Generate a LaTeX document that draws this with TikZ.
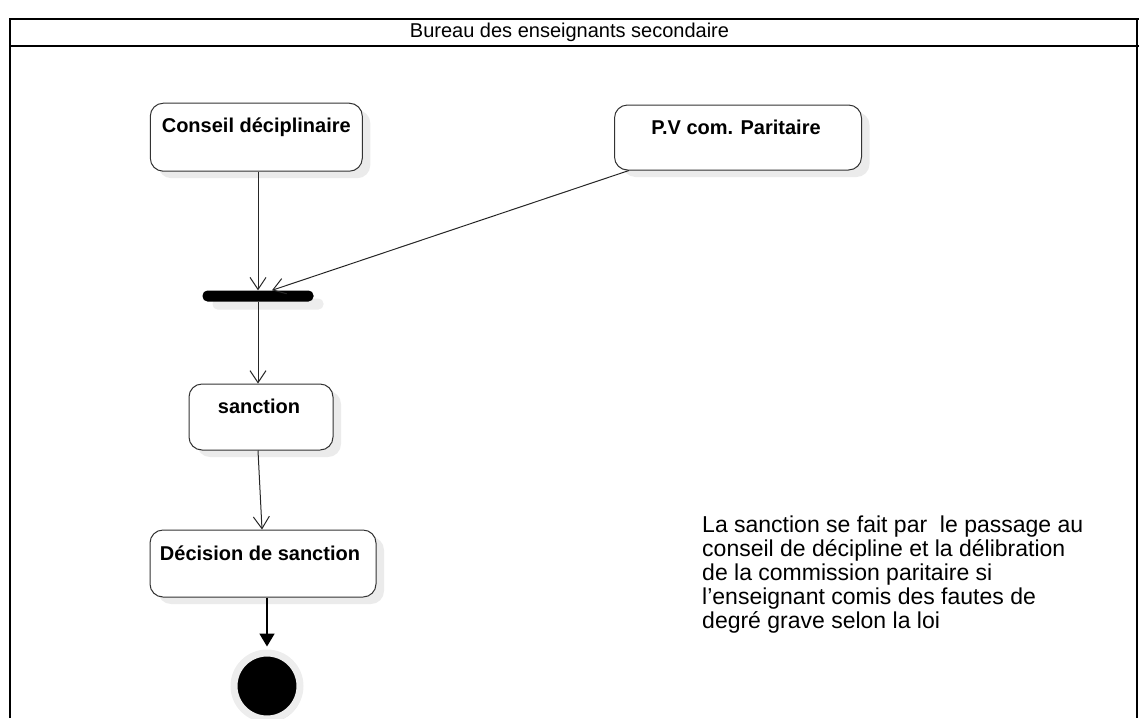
\documentclass[tikz,border=0pt]{standalone}
\usepackage{fontspec}
\setmainfont{Liberation Sans}
\usetikzlibrary{arrows.meta,shadows}
\begin{document}
\begin{tikzpicture}[x=1pt,y=-1pt,
  act/.style={draw=black!80, line width=1pt, rounded corners=13pt, fill=white,
    drop shadow={shadow xshift=8pt, shadow yshift=-7pt, fill=black!8, opacity=1}},
  lab/.style={font=\bfseries\fontsize{20}{22}\selectfont, anchor=base, inner sep=0},
  flow/.style={draw=black!85, line width=1pt, -{Straight Barb[length=12pt,width=16pt,line width=1pt]}},
]
\useasboundingbox (0,0) rectangle (1139,718);
% frame
\draw[line width=2.2pt] (10,718) -- (10,19) -- (1139,19);
\draw[line width=2pt] (10,46) -- (1139,46);
\draw[line width=1.2pt] (1137,19) -- (1137,718);
\node[font=\fontsize{20}{22}\selectfont, anchor=base, inner sep=0] (title) at (569.5,37) {Bureau des enseignants secondaire};
% activities
\node[act, minimum width=212, minimum height=68] (conseil) at (256.3,137.2) {};
\node[lab] at (256.3,132.3) {Conseil déciplinaire};
\node[act, minimum width=247, minimum height=65] (pv) at (738,137.5) {};
\node[lab] at (736,134) {P.V com. Paritaire};
\node[act, minimum width=144, minimum height=66] (sanction) at (261,417) {};
\node[lab] at (259,413) {sanction};
\node[act, minimum width=226, minimum height=67] (decision) at (263,563.5) {};
\node[lab] at (260,560) {Décision de sanction};
% fork bar
\node[fill=black, rounded corners=5pt, minimum width=111, minimum height=11, inner sep=0,
  drop shadow={shadow xshift=10pt, shadow yshift=-8pt, fill=black!7, opacity=1}] (bar) at (258,296) {};
% final node
\node[circle, fill=black, draw=black!7, line width=7pt, minimum size=66, inner sep=0,
  drop shadow={shadow xshift=2pt, shadow yshift=-3pt, fill=black!15, opacity=1}] (final) at (267,686) {};
% note (anchor base = baseline of the last line)
\node[anchor=base west, align=left, font=\fontsize{23}{23.8}\selectfont, inner sep=0] (note) at (702,628)
 {La sanction se fait par\ \ le passage au\\conseil de décipline et la délibration\\de la commission paritaire si\\l'enseignant comis des fautes de\\degré grave selon la loi};
% flows
\coordinate (pvs) at ([xshift=15]pv.south west);
\draw[flow] (conseil.south -| bar.north) -- (bar.north);
\draw[flow] (pvs) -- ([xshift=14]bar.north);
\draw[flow] (bar.south) -- (sanction.north -| bar.south);
\draw[flow] (sanction.south -| bar.south) -- ([xshift=-1]decision.north);
\draw[line width=1.8pt, -{Triangle[length=13pt,width=15pt]}] ([xshift=4]decision.south) -- ([yshift=3]final.north);
\end{tikzpicture}
\end{document}
